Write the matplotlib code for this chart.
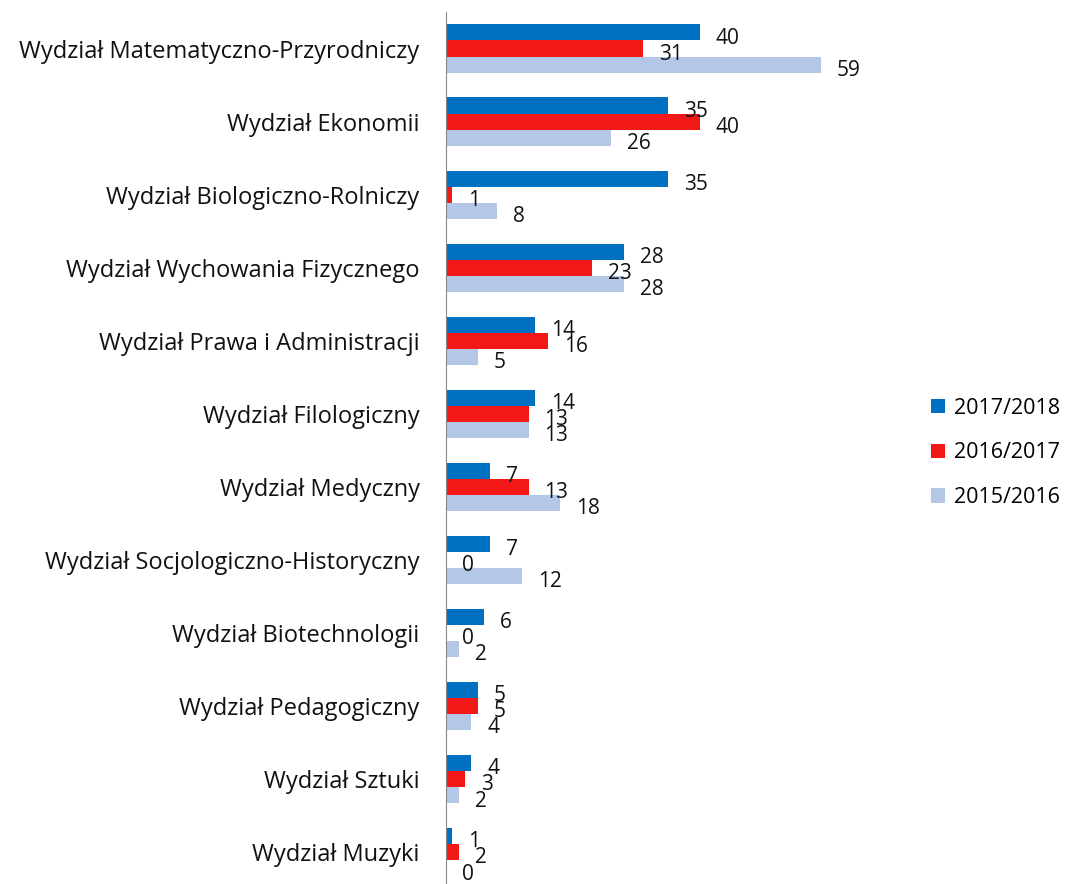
import matplotlib.pyplot as plt
import numpy as np
from matplotlib.patches import Patch

plt.rcParams["font.family"] = ["Open Sans", "DejaVu Sans"]

categories = [
    "Wydział Matematyczno-Przyrodniczy",
    "Wydział Ekonomii",
    "Wydział Biologiczno-Rolniczy",
    "Wydział Wychowania Fizycznego",
    "Wydział Prawa i Administracji",
    "Wydział Filologiczny",
    "Wydział Medyczny",
    "Wydział Socjologiczno-Historyczny",
    "Wydział Biotechnologii",
    "Wydział Pedagogiczny",
    "Wydział Sztuki",
    "Wydział Muzyki",
]
series_names = ["2017/2018", "2016/2017", "2015/2016"]
v_2017_2018 = [40, 35, 35, 28, 14, 14, 7, 7, 6, 5, 4, 1]
v_2016_2017 = [31, 40, 1, 23, 16, 13, 13, 0, 0, 5, 3, 2]
v_2015_2016 = [59, 26, 8, 28, 5, 13, 18, 12, 2, 4, 2, 0]
colors = ["#0070C0", "#F21818", "#B4C7E7"]

fig = plt.figure(figsize=(10.68, 8.84), dpi=100)
ax = fig.add_axes([446 / 1068, -4.5 / 884, 420 / 1068, (884 - 12 + 4.5) / 884])

y = np.arange(len(categories))
h = 0.22
series = [v_2017_2018, v_2016_2017, v_2015_2016]
for i, (vals, c) in enumerate(zip(series, colors)):
    pos = y + (i - 1) * h
    ax.barh(pos, vals, height=h, color=c, edgecolor="none")
    for p, v in zip(pos, vals):
        ax.annotate(str(v), (v, p), xytext=(16, -6), textcoords="offset pixels",
                    ha="left", va="center", fontsize=15, color="#111111")

ax.set_ylim(len(categories) - 0.5, -0.5)
ax.set_xlim(0, 420 / 6.35)
ax.set_yticks(y)
ax.set_yticklabels(categories, fontsize=17, color="#111111")
ax.tick_params(axis="y", length=0, pad=19)
ax.set_xticks([])
for s in ["top", "right", "bottom"]:
    ax.spines[s].set_visible(False)
ax.spines["left"].set_color("#888888")

handles = [Patch(facecolor=c, edgecolor="none") for c in colors]
fig.legend(handles, series_names, loc="center left", bbox_to_anchor=(0.872, 0.4876),
           frameon=False, fontsize=15.5, handlelength=0.65, handleheight=0.65,
           handletextpad=0.4, labelspacing=1.1, borderpad=0, borderaxespad=0)

fig.savefig("out.png", dpi=100)
